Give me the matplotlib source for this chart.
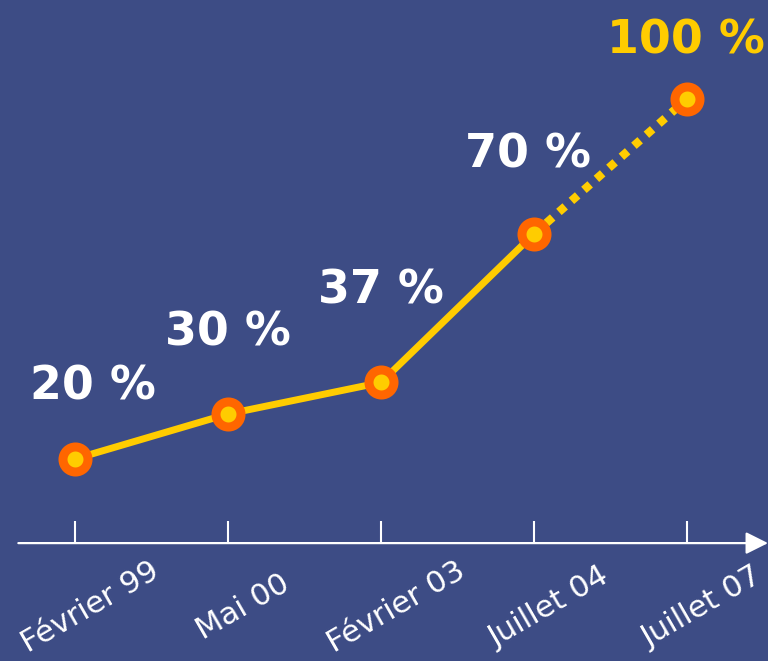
import matplotlib
matplotlib.use("Agg")
import matplotlib.pyplot as plt

# data
dates = ["Février 99", "Mai 00", "Février 03", "Juillet 04", "Juillet 07"]
values = [20, 30, 37, 70, 100]
labels = ["20 %", "30 %", "37 %", "70 %", "100 %"]
label_colors = ["white", "white", "white", "white", "#ffcc00"]
# label offsets from each point, in pixels
label_offsets = [(18, 72), (0, 81), (0, 91), (-6, 79), (-1, 58)]

bg = "#3d4c85"
yellow = "#ffcc00"
orange = "#ff6600"
base = 1.3  # where the time axis sits

plt.rcParams["font.family"] = ["DejaVu Sans"]

fig = plt.figure(figsize=(7.68, 6.61), dpi=100, facecolor=bg)
ax = fig.add_axes([0, 0, 1, 1])
ax.set_facecolor(bg)
ax.set_xlim(-0.49, 4.53)
ax.set_ylim(-24.9, 122)
ax.axis("off")

x = list(range(len(values)))

# time axis with arrow and ticks
ax.annotate("", xy=(4.53, base), xytext=(-0.37, base),
            arrowprops=dict(arrowstyle="-|>", color="white", lw=1.6,
                            mutation_scale=34, shrinkA=0, shrinkB=0))
ax.vlines(x, base, base + 4.9, color="white", lw=1.5)
for xi, d in zip(x, dates):
    ax.text(xi + 0.1, base - 14.2, d, color="white", fontsize=22,
            rotation=30, rotation_mode="anchor", ha="center", va="center")

# measured part solid, projection dotted
ax.plot(x[:4], values[:4], color=yellow, lw=5, solid_capstyle="butt", zorder=2)
ax.plot(x[3:], values[3:], color=yellow, lw=6, linestyle=(0, (1, 1)), zorder=2)
ax.plot(x, values, linestyle="none", marker="o", markersize=18,
        markerfacecolor=yellow, markeredgecolor=orange, markeredgewidth=6.5, zorder=3)

for xi, v, lab, c, off in zip(x, values, labels, label_colors, label_offsets):
    ax.annotate(lab, xy=(xi, v), xytext=off, textcoords="offset pixels",
                ha="center", va="center", color=c, fontsize=33, fontweight="bold")

fig.savefig("out.png", dpi=100, facecolor=bg)
